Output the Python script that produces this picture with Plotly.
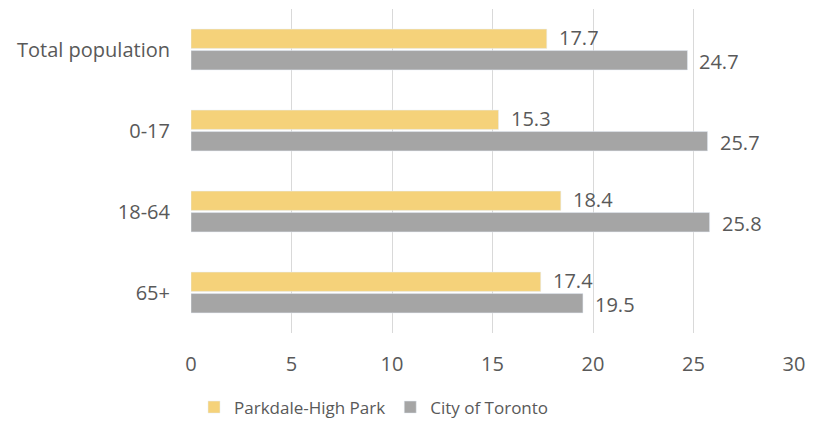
import plotly.graph_objects as go

categories = ["Total population", "0-17", "18-64", "65+"]
parkdale = [17.7, 15.3, 18.4, 17.4]
toronto = [24.7, 25.7, 25.8, 19.5]
x_ticks = [0, 5, 10, 15, 20, 25, 30]

FONT = "Open Sans"
TEXT_COLOR = "#595959"
YELLOW = "#F5D27A"
GREY = "#A5A5A5"

fig = go.Figure()
fig.add_trace(go.Bar(y=categories, x=parkdale, orientation="h",
                     name="Parkdale-High Park", marker_color=YELLOW))
fig.add_trace(go.Bar(y=categories, x=toronto, orientation="h",
                     name="City of Toronto", marker_color=GREY))

# value labels just right of each bar end
annotations = []
for vals, shift in ((parkdale, 12), (toronto, -12)):
    for cat, v in zip(categories, vals):
        annotations.append(dict(x=v, y=cat, xref="x", yref="y", text=f"{v}",
                                showarrow=False, xanchor="left", xshift=10,
                                yshift=shift,
                                font=dict(family=FONT, size=20, color=TEXT_COLOR)))

fig.update_layout(
    width=817, height=421,
    margin=dict(l=191, r=23, t=9, b=88, autoexpand=False),
    paper_bgcolor="white", plot_bgcolor="white",
    barmode="group", bargap=0.47, bargroupgap=0.1,
    font=dict(family=FONT, size=20, color=TEXT_COLOR),
    annotations=annotations,
    legend=dict(orientation="h", x=0.005, xanchor="left", y=-0.23,
                yanchor="middle", font=dict(family=FONT, size=17, color=TEXT_COLOR),
                itemwidth=30, traceorder="normal"),
    xaxis=dict(range=[0, 30], tickvals=x_ticks, showgrid=True,
               gridcolor="#D9D9D9", gridwidth=1, zeroline=False,
               showline=False, ticks="", ticklabelstandoff=17),
    yaxis=dict(autorange="reversed", showgrid=False, zeroline=False,
               showline=False, ticks="", ticklabelstandoff=20),
)

fig.write_html("out.html")
